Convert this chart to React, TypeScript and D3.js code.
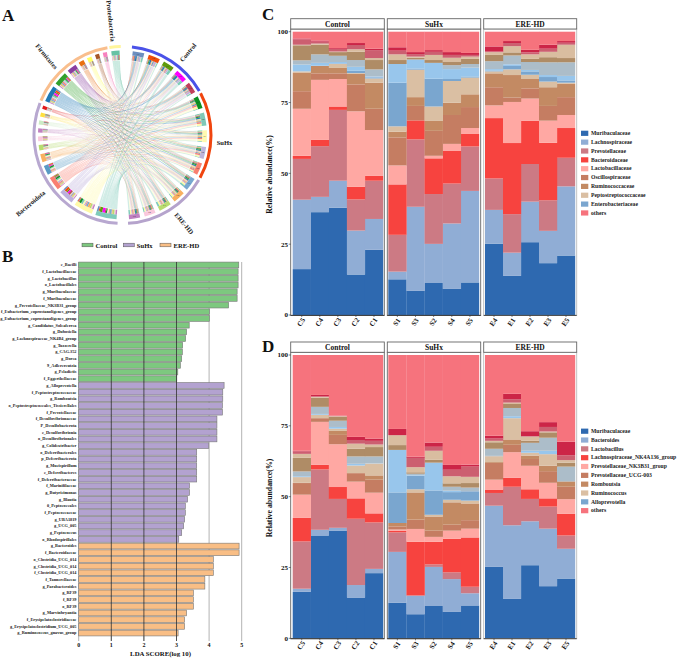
import React from 'react';
import * as d3 from 'd3';

const serif = '"Liberation Serif", "Times New Roman", serif';

// ---- panel A: chord diagram
const samples = ['C1', 'C2', 'C3', 'C4', 'C5', 'S1', 'S2', 'S3', 'S4', 'S5', 'E1', 'E2', 'E3', 'E4', 'E5'];
const sampleColors = ['#6C8EBF', '#EF4C0B', '#5F9A0B', '#FF00FF', '#C0405A', '#0B9020', '#80C8B8', '#FFF9B0', '#BDB5DC', '#F88070', '#78A8D0', '#F8B060', '#B8DC70', '#F9C8DC', '#C080C0'];
const taxaColors = ['#7FCBBA', '#FFF9A8', '#BDB0DC', '#F97F72', '#5A9AC5', '#F8B060', '#B8DC70', '#F9C8DC', '#C080C0', '#CCEBC5', '#FFE040', '#E31A1C', '#1F78B4', '#33A02C', '#8A3FA0', '#E87010', '#FFFF66', '#A65628', '#F781BF', '#66C2A5'];
const taxaValues = [
  [15, 9, 24, 23, 10, 8, 5, 7, 6, 7, 16, 9, 16, 11, 13],
  [5, 6, 2, 2, 4, 18, 16, 14, 12, 9, 15, 17, 15, 12, 12],
  [14, 18, 12, 12, 16, 2, 2, 3, 3, 3, 8, 8, 8, 9, 8],
  [3, 5, 8, 4, 6, 13, 12, 11, 13, 11, 5, 6, 6, 5, 6],
  [4, 8, 3, 6, 5, 11, 8, 7, 6, 6, 3, 4, 3, 3, 3],
  [3, 3, 2, 4, 2, 7, 6, 8, 5, 8, 5, 4, 4, 4, 4],
  [2, 2, 2, 3, 3, 5, 4, 5, 2, 2, 3, 4, 3, 3, 2],
  [2, 2, 3, 3, 2, 1, 2, 2, 2, 3, 4, 3, 5, 3, 3],
  [3, 1, 2, 2, 3, 2, 3, 2, 3, 2, 2, 2, 3, 3, 2],
  [1, 2, 1, 2, 3, 4, 3, 3, 4, 3, 2, 2, 2, 1, 2],
  [2, 2, 3, 2, 2, 3, 3, 2, 2, 3, 2, 3, 2, 2, 2],
  [1, 3, 2, 1, 3, 1, 2, 2, 2, 1, 2, 2, 2, 2, 2],
  [13, 14, 10, 14, 8, 5, 11, 7, 9, 10, 10, 6, 7, 5, 8],
  [5, 8, 4, 6, 5, 8, 10, 6, 10, 12, 10, 9, 7, 7, 7],
  [6, 2, 4, 5, 6, 6, 6, 4, 5, 5, 7, 7, 6, 6, 5],
  [5, 3, 2, 2, 3, 2, 2, 3, 3, 3, 3, 4, 3, 4, 3],
  [3, 2, 3, 1, 3, 2, 3, 4, 3, 3, 2, 3, 3, 3, 2],
  [4, 2, 3, 2, 2, 1, 2, 2, 2, 3, 2, 2, 2, 3, 3],
  [4, 3, 2, 3, 2, 2, 3, 2, 2, 2, 2, 2, 2, 2, 2],
  [2, 3, 3, 3, 3, 3, 7, 6, 7, 5, 6, 5, 6, 6, 4],
];
const groupNames = ['Control', 'SuHx', 'ERE-HD', 'Bacteroidota', 'Firmicutes', 'Proteobacteria'];
const groupColors = ['#4A52E8', '#F0450F', '#B5A3CC', '#B8A8D0', '#F9BE8D', '#FFF59B'];
const groupSizes = [5, 5, 5, 12, 7, 1];

function layoutChord() {
  const sampleTotals = samples.map((_, j) => d3.sum(taxaValues, r => r[j]));
  const taxaTotals = taxaValues.map(r => d3.sum(r));
  const totals = [...sampleTotals, ...taxaTotals];
  const deg = Math.PI / 180;
  const gaps: number[] = [];
  groupSizes.forEach((n, g) => {
    for (let i = 0; i < n; i++) {
      if (i < n - 1) gaps.push(g < 3 ? 3.2 : 2.6);
      else gaps.push(g === 2 ? 8.5 : g === 5 ? 9 : g === 4 ? 3 : 3.4);
    }
  });
  const k = (360 - d3.sum(gaps)) / d3.sum(totals);
  let a = 7;
  const sectors = totals.map((t, i) => {
    const s = { start: a * deg, end: (a + t * k) * deg };
    a += t * k + gaps[i];
    return s;
  });
  return { sectors, k: k * deg };
}

const { sectors, k: angleUnit } = layoutChord();
const nS = samples.length;

// sub arcs per link: partners run against the sector direction so ribbons do not twist
function buildLinks() {
  const nT = taxaValues.length;
  const sampleStart = new Map<string, number>();
  samples.forEach((_, j) => {
    let a = sectors[j].start;
    for (let t = nT - 1; t >= 0; t--) {
      sampleStart.set(t + '-' + j, a);
      a += taxaValues[t][j] * angleUnit;
    }
  });
  const taxaStart = new Map<string, number>();
  taxaValues.forEach((row, t) => {
    let a = sectors[nS + t].start;
    for (let j = nS - 1; j >= 0; j--) {
      taxaStart.set(t + '-' + j, a);
      a += row[j] * angleUnit;
    }
  });
  const links: any[] = [];
  taxaValues.forEach((row, t) => row.forEach((v, j) => {
    const w = v * angleUnit;
    const ta = taxaStart.get(t + '-' + j)!;
    const sa = sampleStart.get(t + '-' + j)!;
    links.push({ t, j, source: { startAngle: ta, endAngle: ta + w }, target: { startAngle: sa, endAngle: sa + w }, v });
  }));
  return links.sort((a, b) => a.v - b.v);
}
const links = buildLinks();

const ribbon: any = d3.ribbon().radius(74.5);
const arc: any = d3.arc();

const ChordPanel = () => {
  const groups: { start: number; end: number }[] = [];
  let pos = 0;
  groupSizes.forEach(n => {
    groups.push({ start: sectors[pos].start - 0.015, end: sectors[pos + n - 1].end + 0.015 });
    pos += n;
  });
  return (
    <g transform="translate(122.5,135)">
      {links.map((l, i) => (
        <path key={i} d={ribbon(l)} fill={taxaColors[l.t]} fillOpacity={0.36} />
      ))}
      {links.map((l, i) => (
        <g key={i}>
          <path d={arc({ innerRadius: 75, outerRadius: 80, startAngle: l.source.startAngle, endAngle: l.source.endAngle })} fill={sampleColors[l.j]} />
          <path d={arc({ innerRadius: 75, outerRadius: 80, startAngle: l.target.startAngle, endAngle: l.target.endAngle })} fill={taxaColors[l.t]} />
        </g>
      ))}
      {sectors.map((s, i) => (
        <path key={i} d={arc({ innerRadius: 80, outerRadius: 84.5, startAngle: s.start, endAngle: s.end })} fill={i < nS ? sampleColors[i] : taxaColors[i - nS]} />
      ))}
      {samples.map((name, i) => {
        const m = (sectors[i].start + sectors[i].end) / 2;
        return (
          <text key={name} x={82.2 * Math.sin(m)} y={-82.2 * Math.cos(m)} fontSize={2.4} textAnchor="middle" dominantBaseline="middle" fontFamily={serif} fill="#333">{name}</text>
        );
      })}
      {groups.map((g, i) => (
        <path key={i} d={arc({ innerRadius: 87, outerRadius: 90, startAngle: g.start, endAngle: g.end })} fill={groupColors[i]} />
      ))}
    </g>
  );
};

const chordLabels = [
  { name: groupNames[0], x: 188.5, y: 53, r: -50 },
  { name: groupNames[1], x: 224.5, y: 143, r: 0 },
  { name: groupNames[2], x: 183.5, y: 224, r: 50 },
  { name: groupNames[3], x: 31, y: 204, r: -40 },
  { name: groupNames[4], x: 46, y: 57, r: 50 },
  { name: groupNames[5], x: 110, y: 21, r: 84 },
];

// ---- panel B: LDA bars
const controlTaxa = ['c_Bacilli', 'f_Lactobacillaceae', 'g_Lactobacillus', 'o_Lactobacillales', 'g_Muribaculaceae', 'f_Muribaculaceae', 'g_Prevotellaceae_NK3B31_group', 'f_Eubacterium_coprostanoligenes_group', 'g_Eubacterium_coprostanoligenes_group', 'g_Candidatus_Soleaferrea', 'g_Dubosiella', 'g_Lachnospiraceae_NK4B4_group', 'g_Tuzzerella', 'g_CAG.352', 'g_Dorea', '9_Adlercreutzia', 'g_Peladictis', 'f_Eggerthellaceae'];
const controlLda = [4.91, 4.89, 4.89, 4.89, 4.86, 4.86, 4.6, 4.01, 4.01, 3.39, 3.31, 3.28, 3.19, 3.18, 3.16, 3.12, 3.04, 3.01];
const suhxTaxa = ['g_Alloprevotella', 'f_Peptostreptococcaceae', 'g_Romboutsia', 'o_Peptostreptococcales_Tissierellales', 'f_Prevotellaceae', 'f_Desulfovibrionaceae', 'P_Desulfobacterota', 'c_Desulfovibrionia', 'o_Desulfovibrionales', 'g_Colidextribacter', 'o_Deferribacterales', 'p_Deferribacterota', 'g_Mucispirillum', 'c_Deferribacteres', 'f_Deferribacteraceae', 'f_Marinifilaceae', 'g_Butyricimonas', 'g_Blautia', '0_Peptococcales', 'f_Peptococcaceae', 'g_UBA1819', 'g_UCG_005', 'g_Peptococcus', 'o_Rhodospirillales'];
const suhxLda = [4.46, 4.42, 4.42, 4.41, 4.41, 4.24, 4.24, 4.24, 4.24, 3.99, 3.62, 3.62, 3.62, 3.62, 3.62, 3.4, 3.4, 3.34, 3.27, 3.27, 3.25, 3.22, 3.16, 3.07];
const ereTaxa = ['g_Bacteroides', 'f_Bacteroidaceae', 'o_Clostridia_UCG_014', 'g_Clostridia_UCG_014', 'f_Clostridia_UCG_014', 'f_Tannerellaceae', 'g_Parabacteroides', 'g_RF39', 'f_RF39', 'o_RF39', 'g_Marvinbryantia', 'f_Erysipelatoclostridiaceae', 'g_Erysipelatoclostridium_UCG_005', 'g_Ruminococcus_gnavus_group'];
const ereLda = [4.92, 4.92, 4.13, 4.13, 4.13, 3.87, 3.87, 3.52, 3.52, 3.52, 3.31, 3.25, 3.25, 3.05];
const ldaGroups = ['Control', 'SuHx', 'ERE-HD'];
const ldaColors = ['#7DC87F', '#B3A2D0', '#F9BE85'];
const ldaTicks = [0, 1, 2, 3, 4, 5];

const ldaRows = [
  ...controlTaxa.map((name, i) => ({ name, value: controlLda[i], group: 0 })),
  ...suhxTaxa.map((name, i) => ({ name, value: suhxLda[i], group: 1 })),
  ...ereTaxa.map((name, i) => ({ name, value: ereLda[i], group: 2 })),
];

const ldaX = d3.scaleLinear().domain([0, 5]).range([78.7, 241.7]);
const ldaY = d3.scaleBand<string>().domain(ldaRows.map(r => r.name)).range([261.6, 636.4]).paddingInner(0.14).paddingOuter(0.07);

const LdaPanel = () => (
  <g fontFamily={serif} fontWeight="bold">
    {ldaTicks.map(t => (
      <line key={t} x1={ldaX(t)} x2={ldaX(t)} y1={262} y2={641} stroke="#aaa" strokeWidth={0.9} />
    ))}
    {ldaRows.map(r => (
      <g key={r.name}>
        <rect x={ldaX(0)} y={ldaY(r.name)} width={ldaX(r.value) - ldaX(0)} height={ldaY.bandwidth()} fill={ldaColors[r.group]} stroke="#777" strokeWidth={0.6} />
        <text x={76.5} y={(ldaY(r.name) as number) + ldaY.bandwidth() / 2 + 1.4} fontSize={4.3} textAnchor="end" fill="#222">{r.name}</text>
      </g>
    ))}
    {ldaTicks.slice(1, 4).map(t => (
      <line key={t} x1={ldaX(t)} x2={ldaX(t)} y1={262} y2={641} stroke="#333" strokeWidth={0.8} />
    ))}
    {ldaTicks.map(t => (
      <text key={t} x={ldaX(t)} y={647} fontSize={6} textAnchor="middle" fill="#111">{t}</text>
    ))}
    <text x={160.5} y={656} fontSize={6.8} textAnchor="middle" fill="#111">LDA SCORE(log 10)</text>
    {ldaGroups.map((g, i) => {
      const x = [82, 123.3, 160][i];
      return (
        <g key={g}>
          <rect x={x} y={243.2} width={11} height={3.6} fill={ldaColors[i]} stroke="#555" strokeWidth={0.5} />
          <text x={x + 13.5} y={247.5} fontSize={6.6} fill="#111">{g}</text>
        </g>
      );
    })}
  </g>
);

// ---- panels C, D: stacked abundance, cumulative tops per sample
const stackColors = ['#2E69B0', '#90ADD5', '#CC7A84', '#F7433F', '#FFA8A3', '#C57D62', '#C38A63', '#DABFA3', '#7AA6CF', '#98C6EC', '#ACBDC9', '#AF8C66', '#D9BDA0', '#CC5F70', '#CC2547', '#F6737D'];
const facets = ['Control', 'SuHx', 'ERE-HD'];
const facetSamples = [['C5', 'C4', 'C3', 'C2', 'C1'], ['S1', 'S3', 'S2', 'S4', 'S5'], ['E4', 'E1', 'E2', 'E3', 'E5']];

const familyLegend = ['Muribaculaceae', 'Lachnospiraceae', 'Prevotellaceae', 'Bacteroidaceae', 'Lactobacillaceae', 'Oscillospiraceae', 'Ruminococcaceae', 'Peptostreptococcaceae', 'Enterobacteriaceae', 'others'];
const genusLegend = ['Muribaculaceae', 'Bacteroides', 'Lactobacillus', 'Lachnospiraceae_NK4A136_group', 'Prevotellaceae_NK3B31_group', 'Prevotellaceae_UCG-003', 'Romboutsia', 'Ruminococcus', 'Alloprevotella', 'others'];
const legendColorIndex = [0, 1, 2, 3, 4, 5, 6, 7, 8, 15];

const familyTops: Record<string, number[]> = {
  C5: [16.2, 40.7, 55.1, 56.2, 72.8, 79, 85.6, 86, 86, 88.4, 89.9, 95.2, 95.4, 97.3, 97.6],
  C4: [36.3, 41.7, 59.6, 61.8, 83, 85.3, 87.9, 87.9, 88, 89, 92, 95.4, 95.8, 96.5, 96.9],
  C3: [37.9, 47.4, 72.4, 73.6, 83.3, 85.3, 87.2, 88.6, 88.8, 89.3, 91.5, 92.8, 93, 93.9, 94.2],
  C2: [14.3, 29.8, 40.8, 45.3, 71.9, 81.4, 85.2, 85.4, 86.2, 87.6, 90, 92.9, 93.8, 95.3, 96],
  C1: [23, 33.9, 47.4, 49.1, 65.3, 72.8, 82, 83.5, 83.9, 84.2, 86.7, 90, 90.7, 93.5, 94],
  S1: [12.6, 15.3, 28.3, 46.1, 52.8, 62.7, 64.7, 66.6, 82, 88.6, 88.6, 90, 92, 93.3, 94.5],
  S3: [8.5, 38.2, 62, 68.7, 68.7, 73.8, 76.9, 86.6, 87, 90.2, 90.2, 90.8, 91.2, 92.1, 92.8],
  S2: [11.3, 25.1, 42.7, 55.3, 56.2, 65, 68.5, 73.6, 83.4, 89, 89, 90, 91.8, 92.9, 93.5],
  S4: [9.2, 32.3, 46.4, 57.9, 60.4, 70.6, 74.9, 82.6, 83.3, 86.8, 88.2, 89.3, 90.8, 91.8, 92.8],
  S5: [11.5, 43.8, 59.5, 63.9, 66, 73.4, 77.9, 83.8, 84.2, 87.3, 88.6, 90.4, 91.2, 91.8, 92.5],
  E4: [25.2, 37.1, 48.2, 69.5, 74, 80.4, 85.3, 86, 86.3, 86.8, 89.6, 91.8, 92.8, 93, 94.8],
  E1: [13.8, 22, 35.6, 60.7, 75.2, 76.8, 84.7, 86.7, 87.9, 88.5, 91.6, 92.7, 94.9, 96, 96.7],
  E2: [25.7, 40, 53.3, 68.6, 76.4, 80, 83.3, 84.8, 86, 86.5, 89.3, 90.4, 92, 92.7, 93.6],
  E3: [18.3, 29.7, 40.5, 60.8, 68.6, 73.8, 80.4, 82.4, 84, 84.7, 89.2, 91, 92.9, 94, 95.4],
  E5: [21, 45.4, 55.5, 66, 70.6, 76.9, 81.6, 82, 82.8, 84.4, 89.2, 90.7, 95.4, 96.1, 96.7],
};

const genusTops: Record<string, number[]> = {
  C5: [16.4, 17.5, 34.2, 42.5, 50.7, 54.8, 54.9, 56.9, 56.9, 57.2, 58.9, 63.7, 65.1, 66, 66.2],
  C4: [36.3, 38.3, 59.6, 61.3, 76.4, 77.7, 77.7, 78.9, 78.9, 79.2, 81.7, 84.9, 85.2, 85.4, 85.9],
  C3: [37.9, 39, 49.2, 53.4, 68.5, 71.8, 73.2, 74, 74, 74.6, 76.8, 78.2, 78.4, 78.5, 78.6],
  C2: [14.4, 18.8, 42.2, 49.4, 55.3, 58.3, 58.3, 61, 61, 61.6, 64.2, 66.9, 68.7, 70, 71.1],
  C1: [23, 24.5, 40.9, 44.1, 51.4, 56, 57.5, 61.7, 61.7, 61.8, 64.2, 67.5, 68.4, 69.7, 70.5],
  S1: [12.6, 30.5, 37.4, 38, 38.4, 39.5, 40.7, 40.7, 51.5, 66.5, 66.5, 68.2, 71.7, 71.7, 73.9],
  S3: [8.5, 15.1, 15.1, 34.1, 38.6, 41.9, 51.5, 52.6, 57.4, 57.6, 58.1, 58.6, 60.4, 63.7, 64.1],
  S2: [11.4, 25.2, 26.1, 34.1, 35.8, 38, 43, 43.6, 52.2, 62, 62, 63, 66.2, 67.6, 69.1],
  S4: [9.3, 20.9, 23.3, 35.1, 38, 40.1, 48, 48.9, 51.6, 52.1, 53.5, 54.7, 57.2, 59.5, 61.2],
  S5: [11.6, 15.9, 18.2, 35.6, 38.7, 41.7, 47.6, 48.6, 51.9, 51.9, 53.2, 54.8, 57, 60.6, 61.3],
  E4: [25.2, 46.8, 51.3, 52.5, 56, 61.9, 62.2, 64.3, 64.3, 64.4, 66.9, 69.2, 69.7, 70.5, 71.5],
  E1: [13.9, 39.9, 53.5, 56.7, 65.7, 68.3, 70.2, 77.7, 77.7, 78.4, 81.3, 82.7, 83.2, 84.4, 86.3],
  E2: [25.8, 41.3, 49.2, 52.6, 60.9, 63.3, 64.5, 65.5, 65.5, 66.2, 69, 69.7, 71.2, 71.4, 73.1],
  E3: [18.4, 38.7, 46.5, 49.4, 54.9, 59, 60.9, 65, 65, 66.2, 70.8, 72.7, 73, 74.6, 76.3],
  E5: [21.1, 31.6, 36.3, 44, 49.1, 53.5, 55.4, 55.4, 55.4, 55.5, 60.6, 62, 62.9, 64.6, 69.4],
};

const stackKeys = stackColors.map((_, i) => 's' + i);
const facetFrames = [[290.7, 384.3, 292.7, 383], [387.3, 480.7, 388.3, 479], [483.7, 576.7, 485, 575]];

const StackPanel = ({ tops, top, bottom, stripTop, legend, legendY, legendStep, titleY }: any) => {
  const y = d3.scaleLinear().domain([0, 100]).range([bottom, top]);
  const stripBottom = stripTop + 10.3;
  const labelColor = '#111';
  return (
    <g fontFamily={serif} fontWeight="bold">
      {facets.map((f, i) => {
        const [fx0, fx1, bx0, bx1] = facetFrames[i];
        const x = d3.scaleBand<string>().domain(facetSamples[i]).range([bx0, bx1]);
        const rows = facetSamples[i].map(s => {
          const row: any = { sample: s };
          const t = [...tops[s], 100];
          t.forEach((v: number, k: number) => { row[stackKeys[k]] = v - (k ? t[k - 1] : 0); });
          return row;
        });
        const series = d3.stack<any>().keys(stackKeys)(rows);
        return (
          <g key={f}>
            {series.map((layer, k) => layer.map(d => (
              <rect key={d.data.sample} x={x(d.data.sample)} y={y(d[1])} width={x.bandwidth() + 0.2} height={Math.max(0, y(d[0]) - y(d[1]))} fill={stackColors[k]} />
            )))}
            <rect x={fx0} y={stripBottom} width={fx1 - fx0} height={bottom + 0.4 - stripBottom} fill="none" stroke={i === 2 ? '#bbb' : '#666'} strokeWidth={0.9} />
            <rect x={fx0} y={stripTop} width={fx1 - fx0} height={10.3} fill="#fff" stroke="#666" strokeWidth={0.9} />
            <text x={(fx0 + fx1) / 2} y={stripTop + 7.8} fontSize={7.5} textAnchor="middle" fill={labelColor}>{f}</text>
            <line x1={fx0} x2={fx1} y1={bottom + 0.4} y2={bottom + 0.4} stroke="#333" strokeWidth={0.9} />
            {facetSamples[i].map(s => {
              const cx = (x(s) as number) + x.bandwidth() / 2;
              return (
                <g key={s}>
                  <line x1={cx} x2={cx} y1={bottom + 0.4} y2={bottom + 2} stroke="#333" strokeWidth={0.6} />
                  <text transform={`translate(${cx},${bottom + 7.5}) rotate(-55)`} fontSize={7} textAnchor="middle" dominantBaseline="middle" fill={labelColor}>{s}</text>
                </g>
              );
            })}
          </g>
        );
      })}
      {[0, 25, 50, 75, 100].map(t => (
        <g key={t}>
          <line x1={288.7} x2={290.7} y1={y(t)} y2={y(t)} stroke="#333" strokeWidth={0.6} />
          <text x={288} y={y(t) + 2.4} fontSize={7} textAnchor="end" fill={labelColor}>{t}</text>
        </g>
      ))}
      <text transform={`translate(272,${titleY}) rotate(-90)`} fontSize={7.8} textAnchor="middle" fill={labelColor}>Relative abundance(%)</text>
      {legend.map((name: string, i: number) => (
        <g key={name}>
          <rect x={581} y={legendY + i * legendStep - 2.6} width={7.3} height={5.2} fill={stackColors[legendColorIndex[i]]} />
          <text x={591} y={legendY + i * legendStep + 1.7} fontSize={5.7} fill="#222">{name}</text>
        </g>
      ))}
    </g>
  );
};

const panelLetters = [['A', 2, 21], ['B', 2, 262], ['C', 262, 20], ['D', 262, 352]];

export default function App() {
  return (
    <svg width={685} height={660} style={{ position: 'absolute', left: 0, top: 0, background: '#fff' }}>
      <ChordPanel />
      <g fontFamily={serif} fontWeight="bold" fill="#222">
        {chordLabels.map(l => (
          <text key={l.name} transform={`translate(${l.x},${l.y}) rotate(${l.r})`} fontSize={6.6} textAnchor="middle" dominantBaseline="middle">{l.name}</text>
        ))}
      </g>
      <LdaPanel />
      <StackPanel tops={familyTops} top={31.7} bottom={315} stripTop={18.7} legend={familyLegend} legendY={133.3} legendStep={8.85} titleY={174.5} />
      <StackPanel tops={genusTops} top={355} bottom={638.3} stripTop={342} legend={genusLegend} legendY={431.2} legendStep={8.83} titleY={498} />
      {panelLetters.map(([t, x, y]) => (
        <text key={t as string} x={x as number} y={y as number} fontFamily={serif} fontWeight="bold" fontSize={17} fill="#111">{t}</text>
      ))}
    </svg>
  );
}
